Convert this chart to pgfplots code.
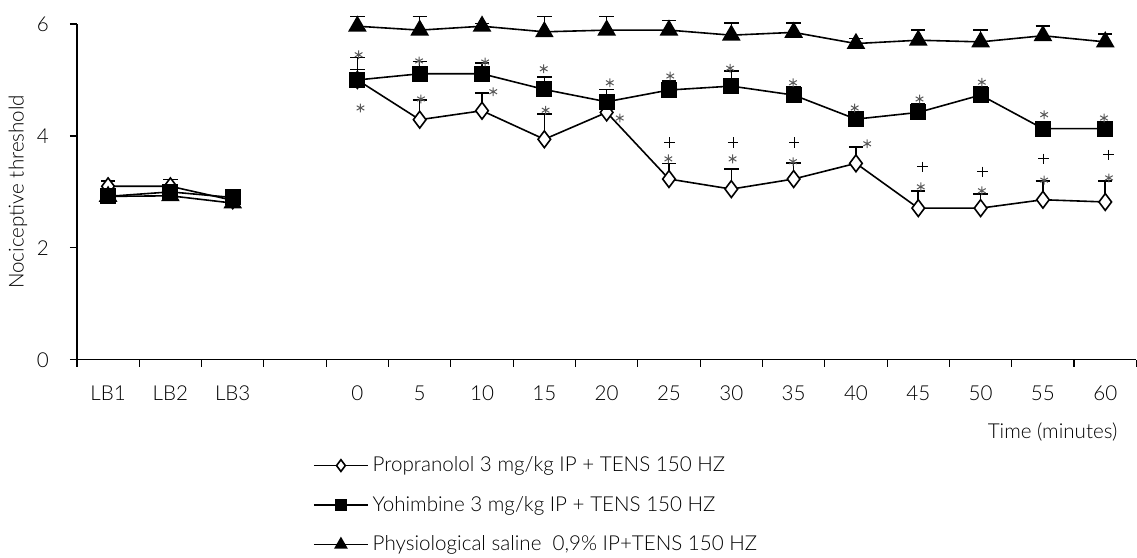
\documentclass[border=0pt]{standalone}
\usepackage{fontspec}
\setmainfont{Lato}[UprightFont=* Light]
\usepackage{pgfplots}
\usepackage{pgfplotstable}
\pgfplotsset{compat=1.18}

% slots: 0=LB1 1=LB2 2=LB3 3=gap 4..16 = 0..60 min
\pgfplotstableread{
x y e
0 3.10 0.10
1 3.10 0.12
2 2.85 0.05
3 nan 0
4 5.00 0.40
5 4.29 0.35
6 4.45 0.32
7 3.94 0.45
8 4.42 0.15
9 3.23 0.28
10 3.05 0.36
11 3.23 0.29
12 3.51 0.29
13 2.71 0.31
14 2.71 0.25
15 2.86 0.34
16 2.82 0.38
}\propranolol

\pgfplotstableread{
x y e
0 2.92 0.05
1 3.00 0.05
2 2.90 0.05
3 nan 0
4 5.00 0.19
5 5.11 0.22
6 5.11 0.19
7 4.83 0.22
8 4.61 0.22
9 4.82 0.16
10 4.89 0.27
11 4.73 0.15
12 4.30 0.09
13 4.42 0.15
14 4.73 0.15
15 4.13 0.12
16 4.13 0.12
}\yohimbine

\pgfplotstableread{
x y e
0 2.92 0.05
1 2.93 0.05
2 2.80 0.05
3 nan 0
4 5.96 0.17
5 5.89 0.24
6 5.96 0.05
7 5.86 0.27
8 5.89 0.24
9 5.89 0.17
10 5.80 0.22
11 5.85 0.17
12 5.65 0.09
13 5.71 0.18
14 5.68 0.21
15 5.79 0.17
16 5.68 0.14
}\saline

% significance marks
\pgfplotstableread{
x y
4.02 5.45
4.05 4.50
4.99 5.34
5.02 4.66
6.05 5.32
6.18 4.79
6.99 5.20
7.02 4.46
8.05 4.95
8.21 4.32
9.02 5.07
8.99 3.59
9.98 5.21
10.02 3.59
10.99 4.95
10.99 3.54
11.98 4.50
12.18 3.86
13.02 4.66
13.04 3.09
14.02 4.96
14.02 3.02
15.02 4.38
15.02 3.21
15.98 4.32
16.06 3.25
}\stars

\pgfplotstableread{
x y
9.01 3.88
10.03 3.88
11.01 3.88
13.07 3.45
14.03 3.36
15.01 3.59
16.05 3.66
}\plusses

\begin{document}
\begin{tikzpicture}
\begin{axis}[
    scale only axis,
    width=530pt,
    height=168pt,
    xmin=-0.5, xmax=16.5,
    ymin=0, ymax=6,
    axis x line*=bottom,
    axis y line*=left,
    axis line style={line width=0.6pt},
    clip=false,
    unbounded coords=jump,
    font=\fontsize{10.3}{12}\selectfont,
    xtick={0,...,16},
    xticklabels={LB1,LB2,LB3,,0,5,10,15,20,25,30,35,40,45,50,55,60},
    major x tick style={draw=none},
    minor xtick={-0.5,0.5,...,16.5},
    ytick={0,2,4,6},
    tick align=outside,
    major tick length=3.5pt,
    minor tick length=3.5pt,
    tick style={line width=0.6pt, black},
    xticklabel style={anchor=center, yshift=-13pt},
    yticklabel style={xshift=-7pt},
    /pgf/number format/assume math mode=true,
    ylabel={Nociceptive threshold},
    ylabel style={at={(axis description cs:-0.0557,0.5)}, anchor=center},
    xlabel={Time (minutes)},
    xlabel style={at={(axis description cs:0.9887,-0.214)}, anchor=east},
    legend style={at={(axis description cs:0.2226,-0.275)}, anchor=north west,
        draw=none, inner sep=0pt, row sep=6.8pt, cells={anchor=west}},
    legend image code/.code={
        \draw[mark repeat=2,mark phase=2,every mark/.append style={scale=0.7}]
        plot coordinates {(0pt,0pt) (13.5pt,0pt) (27pt,0pt)};},
    every axis plot/.append style={line width=0.8pt},
    error bars/y dir=plus,
    error bars/y explicit,
    error bars/error bar style={line width=0.8pt},
    error bars/error mark options={rotate=90, mark size=3.6pt, line width=0.8pt},
]
\addplot[black, mark=diamond*, mark size=4.2pt, mark options={fill=white}]
    table[x=x, y=y, y error=e] {\propranolol};
\addlegendentry{Propranolol 3 mg/kg IP + TENS 150 HZ}

\addplot[black, mark=square*, mark size=3.6pt]
    table[x=x, y=y, y error=e] {\yohimbine};
\addlegendentry{Yohimbine 3 mg/kg IP + TENS 150 HZ}

\addplot[black, mark=triangle*, mark size=4.6pt]
    table[x=x, y=y, y error=e] {\saline};
\addlegendentry{Physiological saline\ \ 0,9\% IP+TENS 150 HZ}

\addplot[only marks, forget plot, mark=asterisk, mark size=2.2pt,
    color=black!65, line width=0.5pt, error bars/y dir=none]
    table[x=x, y=y] {\stars};
\addplot[only marks, forget plot, mark=+, mark size=2.6pt,
    color=black, line width=0.5pt, error bars/y dir=none]
    table[x=x, y=y] {\plusses};

\path (axis description cs:-0.0726,1.0714) rectangle (axis description cs:1.0,-0.583);
\end{axis}
\end{tikzpicture}
\end{document}
